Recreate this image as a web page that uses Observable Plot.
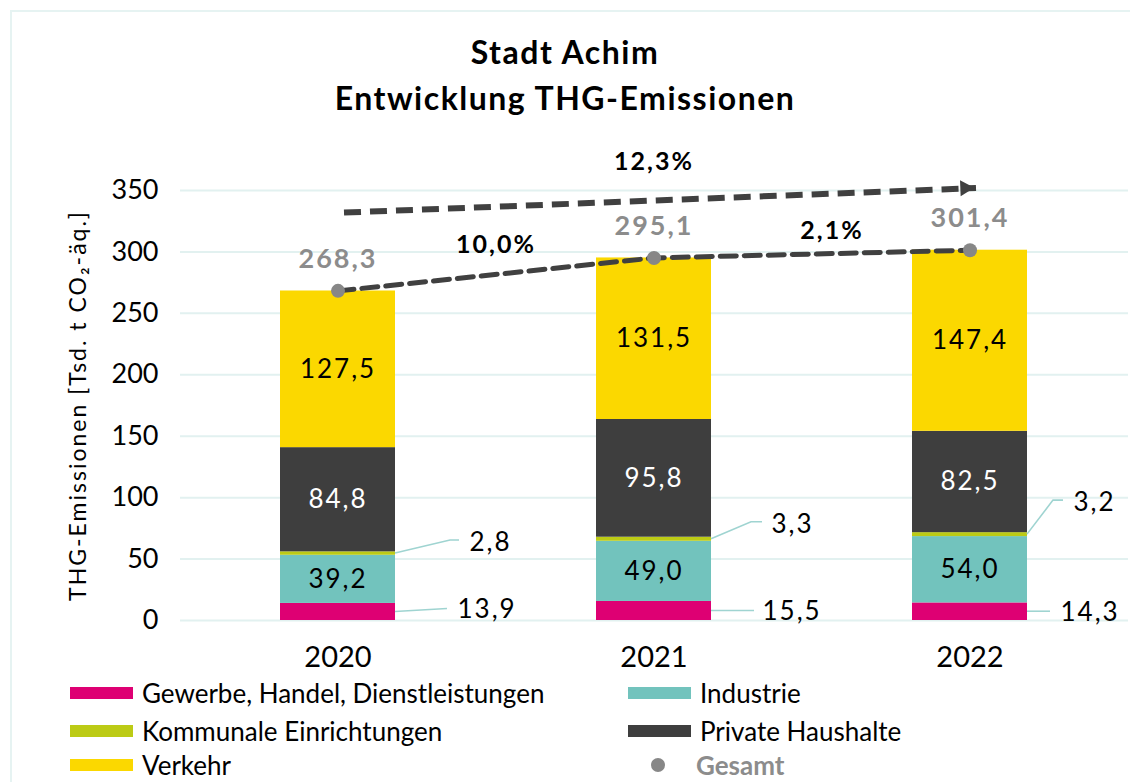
<!DOCTYPE html>
<html><head><meta charset="utf-8">
<script src="https://cdn.jsdelivr.net/npm/d3@7"></script>
<script src="https://cdn.jsdelivr.net/npm/@observablehq/plot@0.6"></script>
<style>
body{margin:0;background:#fff;font-family:Lato,"Open Sans",sans-serif;color:#000;}
#wrap{position:relative;width:1130px;height:782px;overflow:hidden;background:#fff;}
#frame{position:absolute;left:10px;top:10px;width:1140px;height:800px;border-top:2px solid #e6f3f2;border-left:2px solid #e6f3f2;}
#title{position:absolute;top:29px;left:0;width:1130px;text-align:center;font-weight:700;font-size:32px;letter-spacing:1.5px;line-height:46px;}
#chart{position:absolute;left:0;top:130px;}
#chart svg g[aria-label="text"] text{letter-spacing:2px;}
.item{position:absolute;display:flex;align-items:center;font-size:26px;line-height:1;height:26px;white-space:nowrap;}
.sw{width:63px;height:12px;margin-right:9px;}
.dot{width:14px;height:14px;border-radius:50%;background:#878787;margin-left:23px;margin-right:31px;}
</style></head>
<body>
<div id="wrap">
  <div id="frame"></div>
  <div id="title">Stadt Achim<br>Entwicklung THG-Emissionen</div>
  <div id="chart"></div>
  <div id="legend"></div>
</div>
<script>
// ---- data ----
const years = ["2020", "2021", "2022"];
const sectors = ["Gewerbe, Handel, Dienstleistungen", "Industrie", "Kommunale Einrichtungen", "Private Haushalte", "Verkehr"];
const gewerbe = [13.9, 15.5, 14.3];
const industrie = [39.2, 49.0, 54.0];
const kommunal = [2.8, 3.3, 3.2];
const privat = [84.8, 95.8, 82.5];
const verkehr = [127.5, 131.5, 147.4];
const gesamt = [268.3, 295.1, 301.4];
const changeYearly = ["10,0%", "2,1%"];
const changeTotal = "12,3%";
const yTicks = [0, 50, 100, 150, 200, 250, 300, 350];
const colors = ["#DE0073", "#72C3BD", "#BCCB15", "#3E3E3E", "#FBD800"];
const gesamtLabel = "Gesamt";
const yLabel = "THG-Emissionen [Tsd. t CO₂-äq.]";
// trend arrow (value units) from 2020 to 2022
const trendArrow = {from: "2020", to: "2022", y1: 332, y2: 352};

// ---- layout offsets (pixels) for outside labels ----
const kommLayout = [{bend: 55, end: 64, label: 74, rise: 13}, {bend: 40, end: 51, label: 60, rise: 17}, {bend: 26, end: 36, label: 46, rise: 34}];
const gewLayout = [{end: 52, label: 62, rise: 3}, {end: 43, label: 51, rise: 0}, {end: 23, label: 33, rise: 0}];

const fmt = v => v.toFixed(1).replace(".", ",");
const series = [gewerbe, industrie, kommunal, privat, verkehr];
const rows = [];
years.forEach((yr, i) => {
  let base = 0;
  sectors.forEach((s, j) => {
    const v = series[j][i];
    rows.push({year: yr, sector: s, value: v, lo: base, hi: base + v, mid: base + v / 2});
    base += v;
  });
});
const totals = years.map((yr, i) => ({year: yr, value: gesamt[i]}));

function leaders(index, scales) {
  const x = scales.x, y = scales.y, bw = x.bandwidth();
  const g = d3.create("svg:g").attr("fill", "none").attr("stroke", "#9fd4d1").attr("stroke-width", 1.6);
  years.forEach((yr, i) => {
    const right = x(yr) + bw;
    const k = rows.find(d => d.year === yr && d.sector === sectors[2]);
    const ky = y(k.mid), kl = kommLayout[i];
    g.append("path").attr("d", `M${right},${ky}L${right + kl.bend},${ky - kl.rise}L${right + kl.end},${ky - kl.rise}`);
    const gw = rows.find(d => d.year === yr && d.sector === sectors[0]);
    const gy = y(gw.mid), gl = gewLayout[i];
    g.append("path").attr("d", `M${right},${gy}L${right + gl.end},${gy - gl.rise}`);
  });
  return g.node();
}

const outsideLabels = years.flatMap((yr, i) => {
  const k = rows.filter(d => d.year === yr && d.sector === sectors[2]);
  const gw = rows.filter(d => d.year === yr && d.sector === sectors[0]);
  return [
    Plot.text(k, {x: "year", y: "mid", text: d => fmt(d.value), textAnchor: "start", fontSize: 26, fill: "#000",
      dx: 57.5 + kommLayout[i].label, dy: -kommLayout[i].rise + 2}),
    Plot.text(gw, {x: "year", y: "mid", text: d => fmt(d.value), textAnchor: "start", fontSize: 26, fill: "#000",
      dx: 57.5 + gewLayout[i].label, dy: -gewLayout[i].rise + 1})
  ];
});

const step = 316;
const chart = Plot.plot({
  width: 1130, height: 545,
  marginLeft: 180, marginRight: 2, marginTop: 60, marginBottom: 55,
  style: {fontFamily: "Lato, 'Open Sans', sans-serif", fontSize: "27px", color: "#000", background: "transparent", overflow: "visible"},
  x: {domain: years, paddingInner: 0.636, paddingOuter: 0.318, tickSize: 0, tickPadding: 26, label: null},
  y: {domain: [0, 350], ticks: 7, tickSize: 0, tickPadding: 22, label: null},
  color: {domain: sectors, range: colors},
  marks: [
    Plot.ruleY(yTicks, {stroke: "#e2f1f0", strokeWidth: 2}),
    Plot.barY(rows, {x: "year", y: "value", fill: "sector"}),
    Plot.text(rows.filter(d => d.sector === sectors[1] || d.sector === sectors[4]), {x: "year", y: "mid", text: d => fmt(d.value), fill: "#000", fontSize: 26}),
    Plot.text(rows.filter(d => d.sector === sectors[3]), {x: "year", y: "mid", text: d => fmt(d.value), fill: "#fff", fontSize: 26}),
    leaders,
    ...outsideLabels,
    Plot.line(totals, {x: "year", y: "value", stroke: "#404040", strokeWidth: 5, strokeDasharray: "16,8"}),
    Plot.dot(totals, {x: "year", y: "value", r: 7, fill: "#878787"}),
    Plot.text(totals, {x: "year", y: "value", text: d => fmt(d.value), dy: -32, fontSize: 27, fontWeight: 700, fill: "#8c8c8c"}),
    Plot.link([trendArrow], {x1: "from", y1: "y1", x2: "to", y2: "y2", stroke: "#404040", strokeWidth: 6, strokeDasharray: "17,9", dx: 6}),
    Plot.dot([trendArrow], {x: "to", y: "y2", symbol: "triangle", r: 6, fill: "#404040", rotate: 87.7, dx: -5}),
    Plot.text([changeYearly[0]], {x: () => years[0], y: () => (gesamt[0] + gesamt[1]) / 2, text: d => d, dx: step / 2, dy: -29, fontSize: 25, fontWeight: 700}),
    Plot.text([changeYearly[1]], {x: () => years[1], y: () => (gesamt[1] + gesamt[2]) / 2, text: d => d, dx: step / 2 + 20, dy: -23, fontSize: 25, fontWeight: 700}),
    Plot.text([changeTotal], {x: () => years[1], y: () => (trendArrow.y1 + trendArrow.y2) / 2, text: d => d, dy: -38, fontSize: 25, fontWeight: 700}),
    Plot.text([yLabel], {frameAnchor: "left", textAnchor: "middle", rotate: -90, dx: -102, fontSize: 23, text: d => d})
  ]
});
document.getElementById("chart").appendChild(chart);
// x tick labels slightly larger than y tick labels
chart.querySelectorAll('g[aria-label="x-axis"] text, g[aria-label="x-axis tick label"] text').forEach(t => t.style.fontSize = "29px");

// ---- legend ----
const legend = document.getElementById("legend");
const legendItems = [
  {label: sectors[0], color: colors[0], left: 70, cy: 693},
  {label: sectors[1], color: colors[1], left: 628, cy: 693},
  {label: sectors[2], color: colors[2], left: 70, cy: 731},
  {label: sectors[3], color: colors[3], left: 628, cy: 731},
  {label: sectors[4], color: colors[4], left: 70, cy: 765},
  {label: gesamtLabel, color: null, left: 628, cy: 765}
];
legendItems.forEach(it => {
  const div = document.createElement("div");
  div.className = "item";
  div.style.left = it.left + "px";
  div.style.top = (it.cy - 13) + "px";
  if (it.color) {
    div.innerHTML = `<span class="sw" style="background:${it.color}"></span><span>${it.label}</span>`;
  } else {
    div.innerHTML = `<span class="dot"></span><span style="font-weight:700;color:#8c8c8c">${it.label}</span>`;
  }
  legend.appendChild(div);
});
</script>
</body></html>
